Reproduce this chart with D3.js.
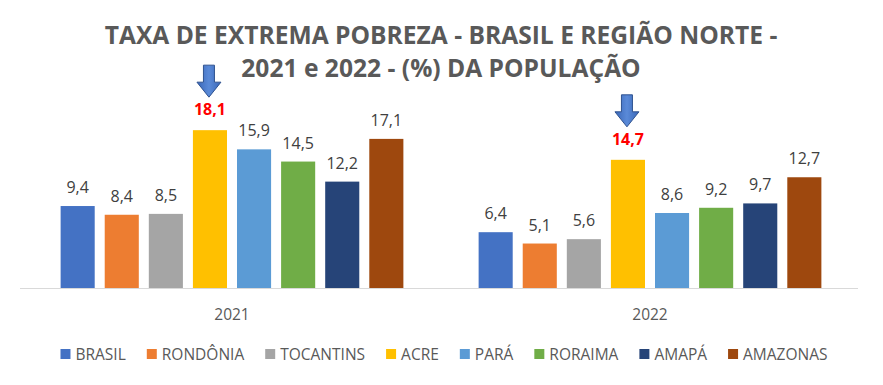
<!DOCTYPE html>
<html>
<head>
<meta charset="utf-8">
<script src="https://cdn.jsdelivr.net/npm/d3@7"></script>
<style>
  body { margin: 0; background: #fff; }
  svg { font-family: "Open Sans", "Liberation Sans", sans-serif; }
</style>
</head>
<body>
<div id="chart"></div>
<script>
var years = ["2021", "2022"];
var regions = ["BRASIL", "RONDÔNIA", "TOCANTINS", "ACRE", "PARÁ", "RORAIMA", "AMAPÁ", "AMAZONAS"];
var values2021 = [9.4, 8.4, 8.5, 18.1, 15.9, 14.5, 12.2, 17.1];
var values2022 = [6.4, 5.1, 5.6, 14.7, 8.6, 9.2, 9.7, 12.7];
var colors = ["#4472C4", "#ED7D31", "#A5A5A5", "#FFC000", "#5B9BD5", "#70AD47", "#264478", "#9E480E"];
var highlight = "ACRE";

var seriesByYear = { "2021": values2021, "2022": values2022 };

var width = 883, height = 385;
var svg = d3.select("#chart").append("svg")
  .attr("width", width)
  .attr("height", height);

// title
var title = svg.append("text")
  .attr("text-anchor", "middle")
  .attr("fill", "#595959")
  .attr("font-weight", "bold")
  .attr("font-size", 24.6);
title.append("tspan").attr("x", 441).attr("y", 44).text("TAXA DE EXTREMA POBREZA - BRASIL E REGIÃO NORTE -");
title.append("tspan").attr("x", 441).attr("y", 77).text("2021 e 2022 - (%) DA POPULAÇÃO");

var x0 = d3.scaleBand().domain(years).range([23, 859]).paddingInner(0.18).paddingOuter(0.09);
var x1 = d3.scaleBand().domain(regions).range([0, x0.bandwidth()]).paddingInner(0.227);
var y = d3.scaleLinear().domain([0, 20]).range([288, 113.6]);

// axis line
svg.append("line")
  .attr("x1", 20).attr("x2", 858)
  .attr("y1", y(0) + 0.5).attr("y2", y(0) + 0.5)
  .attr("stroke", "#D9D9D9");

var groups = svg.selectAll(".year").data(years).enter().append("g")
  .attr("class", "year")
  .attr("transform", d => "translate(" + x0(d) + ",0)");

var bars = groups.selectAll(".bar")
  .data(yr => seriesByYear[yr].map((v, i) => ({ region: regions[i], value: v, color: colors[i] })))
  .enter();

bars.append("rect")
  .attr("x", d => x1(d.region))
  .attr("y", d => y(d.value))
  .attr("width", x1.bandwidth())
  .attr("height", d => y(0) - y(d.value))
  .attr("fill", d => d.color);

bars.append("text")
  .attr("x", d => x1(d.region) + x1.bandwidth() / 2)
  .attr("y", d => y(d.value) - (d.region == highlight ? 15 : 13))
  .attr("text-anchor", "middle")
  .attr("font-size", 16)
  .attr("font-weight", d => d.region == highlight ? "bold" : "normal")
  .attr("fill", d => d.region == highlight ? "#FF0000" : "#404040")
  .text(d => d3.format(".1f")(d.value).replace(".", ","));

// arrows above highlighted bars
var defs = svg.append("defs");
var grad = defs.append("linearGradient").attr("id", "arrowGrad").attr("x1", 0).attr("x2", 1);
grad.append("stop").attr("offset", "0%").attr("stop-color", "#3A67B8");
grad.append("stop").attr("offset", "50%").attr("stop-color", "#5A8AD8");
grad.append("stop").attr("offset", "100%").attr("stop-color", "#3A67B8");

groups.each(function (yr) {
  var i = regions.indexOf(highlight);
  var v = seriesByYear[yr][i];
  var cx = x0(yr) + x1(highlight) + x1.bandwidth() / 2 - 1;
  var tip = y(v) - 33;
  var top = tip - 32;
  var pts = [
    [cx - 5.5, top], [cx + 5.5, top], [cx + 5.5, tip - 15], [cx + 12, tip - 15],
    [cx, tip], [cx - 12, tip - 15], [cx - 5.5, tip - 15]
  ];
  svg.append("path")
    .attr("d", d3.line()(pts) + "Z")
    .attr("fill", "url(#arrowGrad)")
    .attr("stroke", "#2F528F")
    .attr("stroke-width", 1);
});

// category labels
svg.selectAll(".yearLabel").data(years).enter().append("text")
  .attr("x", d => x0(d) + x0.bandwidth() / 2)
  .attr("y", 320)
  .attr("text-anchor", "middle")
  .attr("font-size", 15.5)
  .attr("fill", "#595959")
  .text(d => d);

// legend
var legend = svg.append("g");
var lx = 0;
regions.forEach(function (r, i) {
  var item = legend.append("g").attr("transform", "translate(" + lx + ",0)");
  item.append("rect").attr("x", 0).attr("y", -5).attr("width", 10).attr("height", 10).attr("fill", colors[i]);
  var t = item.append("text").attr("x", 15).attr("y", 6)
    .attr("font-size", 15.5).attr("fill", "#595959").text(r);
  lx += 15 + t.node().getComputedTextLength() + 21;
});
lx -= 21;
legend.attr("transform", "translate(" + (444 - lx / 2) + ",354)");
</script>
</body>
</html>
